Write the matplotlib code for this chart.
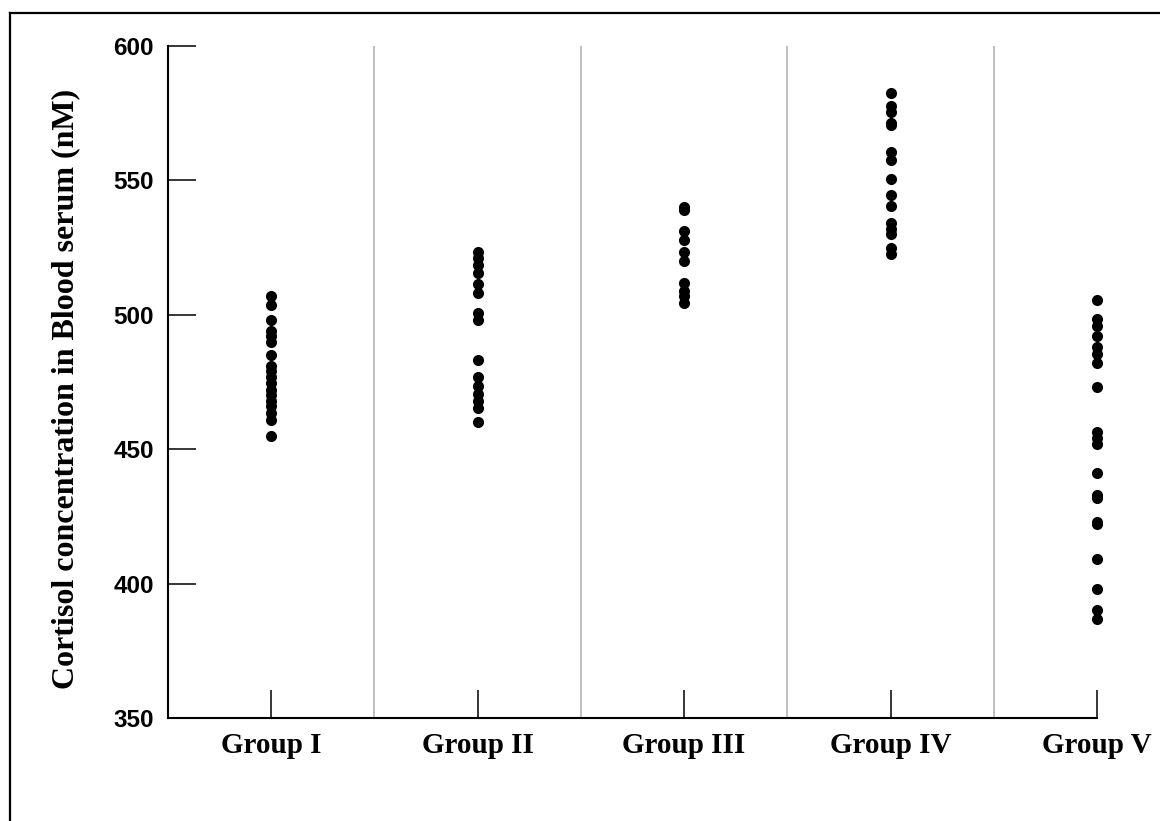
import numpy as np
import matplotlib
matplotlib.use('Agg')
import matplotlib.pyplot as plt
from matplotlib.lines import Line2D

# Cortisol values (nM)
groups = ['Group I', 'Group II', 'Group III', 'Group IV', 'Group V']
group_1 = [507, 503.5, 498, 494, 492, 490, 485, 481, 479, 477, 474.5, 472, 470, 468,
           466, 463.5, 461, 455]
group_2 = [523.5, 521, 518.5, 515.5, 511.5, 508, 500.5, 498, 483, 477, 473.5, 470.5,
           468, 465.5, 460]
group_3 = [540, 539, 531, 528, 523.5, 520, 512, 509, 507, 504.5]
group_4 = [582.5, 577.5, 575.5, 571.5, 570.5, 560.5, 557.5, 550.5, 544.5, 540.5,
           534, 532, 530, 525, 522.5]
group_5 = [505.5, 498.5, 496, 492, 488, 485.5, 482, 473, 456.5, 454, 452, 441,
           433, 432, 423, 422, 409, 398, 390, 387]
y_ticks = [350, 400, 450, 500, 550, 600]


def plot_groups(ax, data):
    # one column of dots per group
    for i, values in enumerate(data):
        ax.plot(np.full(len(values), i), values, 'o', color='black',
                markersize=8, markeredgewidth=0, zorder=3, clip_on=False)


fig = plt.figure(figsize=(11.6, 8.21), dpi=100)
ax = fig.add_axes([0.1448, 0.1255, 0.8009, 0.8185])

plot_groups(ax, [group_1, group_2, group_3, group_4, group_5])

# light separators between groups
for x in np.arange(0.5, len(groups) - 1, 1.0):
    ax.axvline(x, color='#b4b4b4', linewidth=1.2, zorder=1)

ax.set_xlim(-0.5, len(groups) - 1)
ax.set_ylim(350, 600)
ax.set_xticks(range(len(groups)))
ax.set_xticklabels(groups, family='Liberation Serif', fontweight='bold', fontsize=21)
ax.set_yticks(y_ticks)
ax.set_yticklabels([str(v) for v in y_ticks], family='Liberation Sans',
                   fontweight='bold', fontsize=17.5)
ax.tick_params(axis='both', direction='in', length=20, width=1.1, color='black')
ax.tick_params(axis='y', pad=10)
ax.tick_params(axis='x', pad=10)

for side in ['top', 'right']:
    ax.spines[side].set_visible(False)
for side in ['left', 'bottom']:
    ax.spines[side].set_linewidth(1.5)

ax.set_ylabel('Cortisol concentration in Blood serum (nM)', family='Liberation Serif',
              fontweight='bold', fontsize=23)
ax.yaxis.set_label_coords(-0.094, 0.49)

# outer frame (only top and left edges fall inside the image)
fig.add_artist(Line2D([0.0086, 0.0086], [0.0, 0.984], color='black', linewidth=1.6))
fig.add_artist(Line2D([0.0086, 1.0], [0.984, 0.984], color='black', linewidth=1.6))

fig.savefig('out.png', dpi=100)
